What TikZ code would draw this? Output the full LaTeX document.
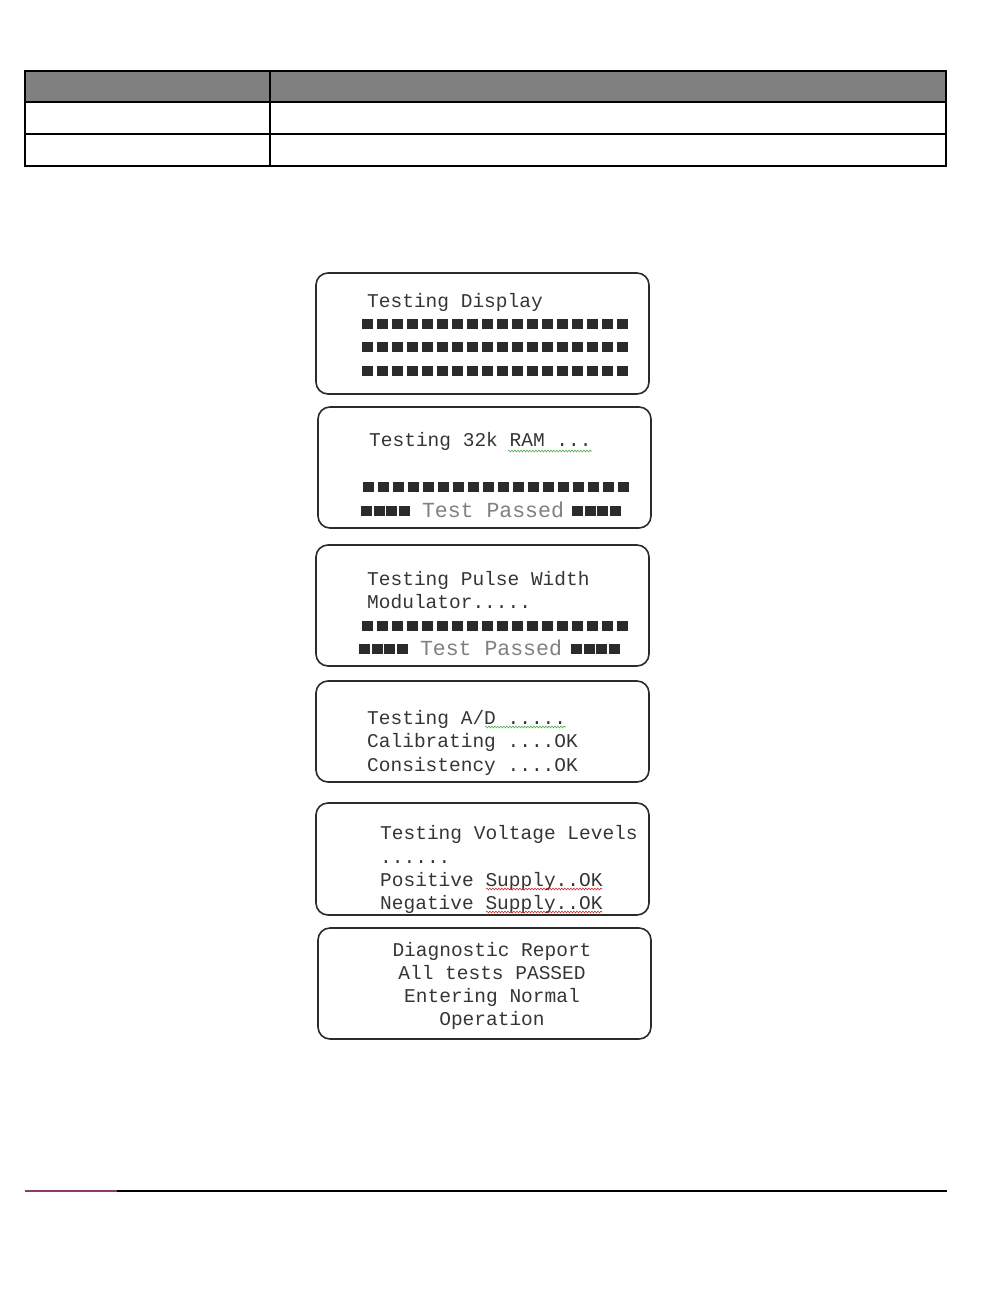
\documentclass[tikz,border=0pt]{standalone}
\usepackage{fontspec}
\setmonofont{Liberation Mono}
\usepackage{tikz}
\usepackage{xcolor}
\usetikzlibrary{decorations.pathmorphing}
\definecolor{ink}{HTML}{2B2B2B}
\definecolor{lcdtext}{HTML}{353535}
\definecolor{faded}{HTML}{808080}
\definecolor{header}{HTML}{808080}
\definecolor{plum}{HTML}{8C3B6E}
\definecolor{spellred}{HTML}{D03030}
\definecolor{spellgreen}{HTML}{4CAF50}
% one row of display blocks: x0, y centre, count, pitch
\newcommand{\blockrow}[4]{%
  \foreach \k in {1,...,#3} {\fill[ink] ({#1+(\k-1)*#4},{#2-5}) rectangle ++(11,10);}%
}

\begin{document}
\begin{tikzpicture}[
  x=1pt, y=-1pt,
  screen/.style={draw=ink, line width=1.6pt, rounded corners=12pt},
  lcd/.style={anchor=base west, inner sep=0pt, text=lcdtext, font=\ttfamily\fontsize{19.5}{23}\selectfont},
  lcdmid/.style={lcd, anchor=base},
  passed/.style={lcd, anchor=base, text=faded, font=\ttfamily\fontsize{21.5}{23}\selectfont},
  grid/.style={draw=black, line width=1.4pt},
  squiggle/.style={line width=0.6pt, decorate, decoration={snake, amplitude=0.9pt, segment length=3pt}}
]
\useasboundingbox (0,0) rectangle (1008,1296);

% table at the top
\fill[header] (25,71) rectangle (946,102);
\draw[grid] (25,71) rectangle (946,166);
\draw[grid] (25,102) -- (946,102);
\draw[grid] (25,134) -- (946,134);
\draw[grid] (270,71) -- (270,166);

% screen 1
\draw[screen] (316,273) rectangle (649,394);
\node[lcd] (disp) at (367,307) {Testing Display};
\blockrow{362}{324}{18}{15}
\blockrow{362}{347}{18}{15}
\blockrow{362}{371}{18}{15}

% screen 2
\draw[screen] (318,407) rectangle (651,528);
\node[lcd] (ram) at (369,446) {Testing 32k RAM ...};
\draw[squiggle, spellgreen] (508,451) -- (592,451);
\blockrow{363}{487}{18}{15}
\blockrow{361}{511}{4}{12.6}
\node[passed] (ramok) at (493,517) {Test Passed};
\blockrow{572}{511}{4}{12.6}

% screen 3
\draw[screen] (316,545) rectangle (649,666);
\node[lcd] (pwm) at (367,585) {Testing Pulse Width};
\node[lcd] (pwm2) at (367,608) {Modulator.....};
\blockrow{362}{626}{18}{15}
\blockrow{359}{649}{4}{12.6}
\node[passed] (pwmok) at (491,655) {Test Passed};
\blockrow{571}{649}{4}{12.6}

% screen 4
\draw[screen] (316,681) rectangle (649,782);
\node[lcd] (adc) at (367,724) {Testing A/D .....};
\draw[squiggle, spellgreen] (485,727) -- (566,727);
\node[lcd] (cal) at (367,747) {Calibrating ....OK};
\node[lcd] (cons) at (367,771) {Consistency ....OK};

% screen 5
\draw[screen] (316,803) rectangle (649,915);
\node[lcd] (volt) at (380,839) {Testing Voltage Levels};
\node[lcd] (volt2) at (380,863) {......};
\node[lcd] (pos) at (380,886) {Positive Supply..OK};
\draw[squiggle, spellred] (486,889) -- (602,889);
\node[lcd] (neg) at (380,909) {Negative Supply..OK};
\draw[squiggle, spellred] (486,912) -- (602,912);

% screen 6
\draw[screen] (318,928) rectangle (651,1039);
\node[lcdmid] (diag) at (492,956) {Diagnostic Report};
\node[lcdmid] (all) at (492,979) {All tests PASSED};
\node[lcdmid] (enter) at (492,1002) {Entering Normal};
\node[lcdmid] (oper) at (492,1025) {Operation};

% footer rule
\draw[black, line width=1.1pt] (117,1191) -- (947,1191);
\draw[plum, line width=1.1pt] (25,1191) -- (117,1191);
\end{tikzpicture}
\end{document}
